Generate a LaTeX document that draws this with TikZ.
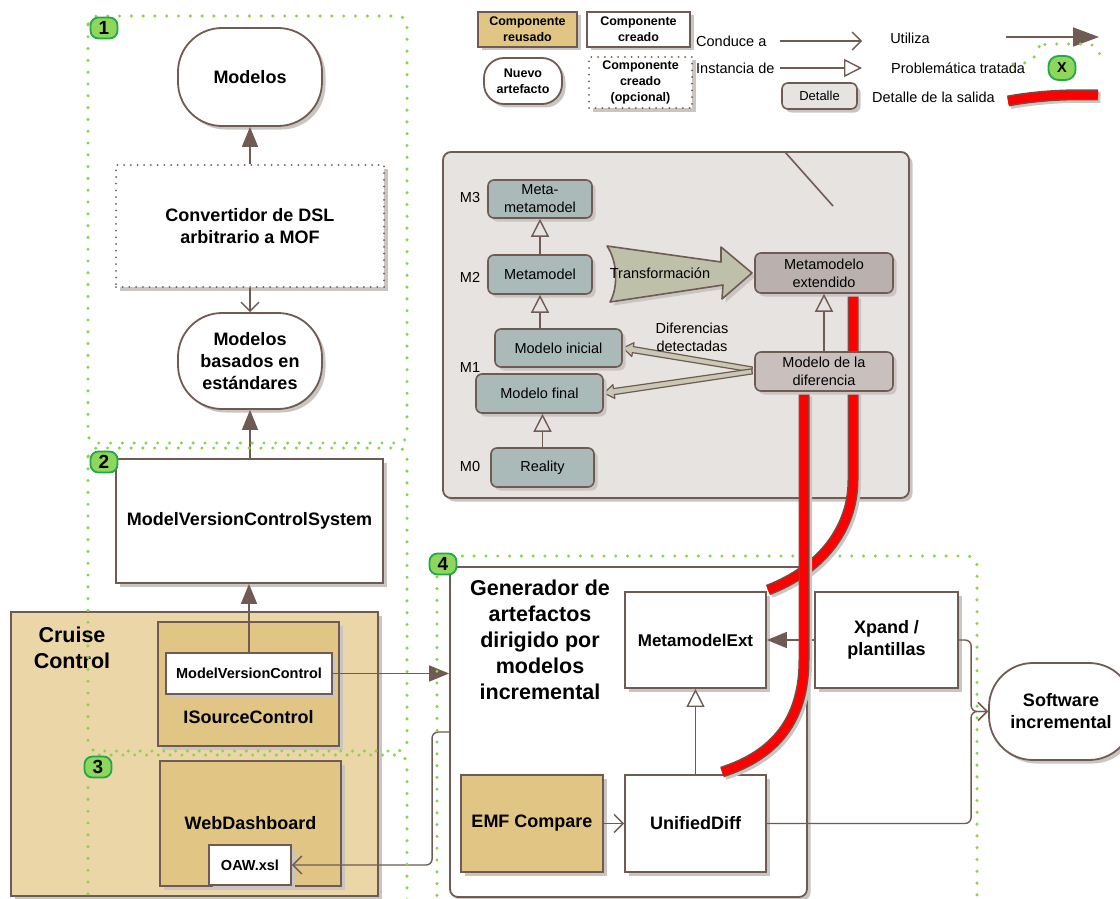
\documentclass[tikz,border=0pt]{standalone}
\usepackage{fontspec}
\setmainfont{Liberation Sans}
\usetikzlibrary{arrows.meta,shadows,calc}
\definecolor{brn}{HTML}{6F5B53}
\definecolor{shd}{HTML}{CBC5C2}
\definecolor{tanc}{HTML}{E0C584}
\definecolor{tanlt}{HTML}{EBD6A8}
\definecolor{panelc}{HTML}{E7E3E0}
\definecolor{bluegr}{HTML}{A9BAB8}
\definecolor{mauve}{HTML}{BAB0AE}
\definecolor{mauvelt}{HTML}{C9C0BE}
\definecolor{olivec}{HTML}{BFC0AA}
\definecolor{bandc}{HTML}{C8C8B4}
\definecolor{greendot}{HTML}{8CD24E}
\definecolor{badgefill}{HTML}{8ED65C}
\definecolor{badgeline}{HTML}{23A849}
\definecolor{redo}{HTML}{7A4A40}
\newcommand\myB{\fontsize{18}{22}\selectfont\bfseries}
\newcommand\myS{\fontsize{14.5}{17}\selectfont\bfseries}
\newcommand\myXL{\fontsize{21.5}{26}\selectfont\bfseries}
\newcommand\myL{\fontsize{12.5}{16}\selectfont\bfseries}
\newcommand\myR{\fontsize{14.5}{18}\selectfont}
\newcommand\myRs{\fontsize{13}{16}\selectfont}
\newcommand\myBadge{\fontsize{19}{20}\selectfont\bfseries}
\begin{document}
\begin{tikzpicture}[x=1pt,y=-1pt,
  every node/.style={inner sep=0pt},
  shad/.style={drop shadow={shadow xshift=3.5pt,shadow yshift=-3.5pt,fill=shd,opacity=1}},
  box/.style={draw=brn,line width=1.8pt,fill=white,align=center,shad,font=\myB},
  tanbox/.style={box,fill=tanc},
  dotbox/.style={draw=brn,line width=2pt,dash pattern=on 0pt off 6.7pt,line cap=round,fill=white,align=center,shad,font=\myB},
  stadium/.style={box,rounded corners=44pt},
  pbox/.style={draw=brn,line width=1.6pt,rounded corners=6pt,fill=bluegr,align=center,shad,font=\myR},
  region/.style={draw=greendot,line width=3.4pt,dash pattern=on 0pt off 11.8pt,line cap=round,rounded corners=9pt},
  badge/.style={draw=badgeline,fill=badgefill,line width=1.8pt,rounded corners=8pt,minimum width=27pt,minimum height=21pt,font=\myBadge},
  uses/.style={draw=brn,line width=1.6pt,-{Triangle[length=20pt,width=16pt]}},
  leads/.style={draw=brn,line width=1.4pt,-{Straight Barb[length=9pt,width=18pt]}},
  inst/.style={draw=brn,line width=1.4pt,-{Triangle[open,length=18pt,width=18pt]}},
  redl/.style={line width=8pt,draw=red,
    preaction={draw=shd,line width=11pt,transform canvas={shift={(2.5pt,-2.5pt)}}},
    preaction={draw=redo,line width=11pt}}
]
\useasboundingbox (0,0) rectangle (1120,899);
\clip (0,0) rectangle (1120,899);
\fill[white] (0,0) rectangle (1120,899);

% ---------- legend ----------
\node[tanbox,font=\myL,minimum width=99pt,minimum height=35pt] (lreuse) at (527.5,29.5) {Componente\\reusado};
\node[box,font=\myL,minimum width=103pt,minimum height=35pt] (lcre) at (638.5,29.5) {Componente\\creado};
\node[box,rounded corners=20pt,font=\myL,minimum width=78pt,minimum height=46pt] (lnuevo) at (523,81) {Nuevo\\artefacto};
\node[dotbox,font=\myL,minimum width=103pt,minimum height=51pt] (lopc) at (640.5,82.5) {Componente\\creado\\(opcional)};
\node[font=\myR,anchor=west] (tcond) at (696,41) {Conduce a};
\coordinate (c1a) at (780,41); \coordinate (c1b) at (862,41);
\draw[leads] (c1a) -- (c1b);
\node[font=\myR,anchor=west] (tinst) at (696,68) {Instancia de};
\coordinate (c2a) at (780,68); \coordinate (c2b) at (862,68);
\draw[inst] (c2a) -- (c2b);
\node[font=\myR] (tuti) at (910,38) {Utiliza};
\coordinate (c3a) at (1006,37); \coordinate (c3b) at (1099,37);
\draw[draw=brn,line width=1.6pt,-{Triangle[length=26pt,width=19pt]}] (c3a) -- (c3b);
\node[font=\myR,anchor=west] (tprob) at (891,68) {Problemática tratada};
\draw[region,rounded corners=6pt] (1013,64) -- (1033,62) -- (1037,46) -- (1046,44) -- (1094,44) -- (1101,56);
\node[draw=badgeline,fill=badgefill,line width=1.8pt,rounded corners=10pt,minimum width=27pt,minimum height=24pt,font=\myS] (lx) at (1062,68) {X};
\node[draw=brn,line width=1.6pt,rounded corners=6pt,fill=panelc,shad,minimum width=75pt,minimum height=26pt,font=\myRs] (ldet) at (819.5,96) {Detalle};
\node[font=\myR,anchor=west] (tdet) at (872,97) {Detalle de la salida};
\draw[redl] (1008,101) .. controls (1035,96) and (1065,94) .. (1098,95);

% ---------- region 1 ----------
\node[stadium,minimum width=144pt,minimum height=98pt] (modelos) at (250,77) {Modelos};
\node[dotbox,minimum width=268pt,minimum height=122pt] (conv) at (250,226) {Convertidor de DSL\\arbitrario a MOF};
\node[stadium,minimum width=144pt,minimum height=96pt] (mbase) at (250,361) {Modelos\\basados en\\estándares};
\draw[uses] (conv.north) -- (modelos.south);
\draw[leads] (conv.south) -- (mbase.north);

% ---------- region 2/3 ----------
\node[box,minimum width=267pt,minimum height=124pt] (mvcs) at (249.5,521) {ModelVersionControlSystem};
\draw[uses] (mvcs.north -| mbase.south) -- (mbase.south);
\node[box,fill=tanlt,minimum width=367pt,minimum height=284pt] (cruise) at (194.5,754) {};
\node[font=\myXL,align=center] (cruiset) at (72,648) {Cruise\\Control};
\node[tanbox,minimum width=181pt,minimum height=124pt] (isc) at (248.5,684) {};
\node[font=\myB] (isct) at (248.5,717) {ISourceControl};
\node[box,font=\myS,minimum width=166pt,minimum height=41pt] (mvc) at (249,673.5) {ModelVersionControl};
\node[tanbox,minimum width=181pt,minimum height=125pt] (web) at (250.5,823.5) {};
\node[font=\myB] (webt) at (250.5,823) {WebDashboard};
\node[box,font=\myS,minimum width=82pt,minimum height=40pt] (oaw) at (250,865) {OAW.xsl};
\draw[uses] (mvc.north) -- (mvc.north |- mvcs.south);

% ---------- grey panel background ----------
\node[draw=brn,line width=1.8pt,rounded corners=8pt,fill=panelc,shad,minimum width=466pt,minimum height=346pt] (panel) at (676,325) {};
\coordinate (diag) at (785,152);
\draw[brn,line width=1.6pt] (diag) -- (833,206);
% bands (Diferencias detectadas)
\filldraw[fill=bandc,draw=brn,line width=1.2pt,line join=round] (623,348) -- (634.0,342.7) -- (633.4,346.6) -- (752.4,367) -- (751.6,372) -- (632.4,352.6) -- (631.8,356.5) -- cycle;
\filldraw[fill=bandc,draw=brn,line width=1.2pt,line join=round] (604,393) -- (612.9,384.7) -- (613.5,388.6) -- (751.6,368.9) -- (752.4,373.9) -- (614.3,394.6) -- (614.9,398.5) -- cycle;
% transformation arrow
\filldraw[fill=olivec,draw=brn,line width=1.6pt,line join=round,shad] (607,246) -- (721,262) -- (721,247) -- (752,273) -- (722,299) -- (723,285) -- (610,302) .. controls (618,288) and (618,262) .. cycle;
\node[font=\myR] (ttrans) at (660,273) {Transformación};
\node[font=\myR,align=center] (tdif) at (692,337) {Diferencias\\detectadas};

% ---------- region 4 ----------
\node[box,rounded corners=8pt,minimum width=357pt,minimum height=330pt] (gen) at (628.5,732) {};
\node[font=\myXL,align=center] (gent) at (540,640) {Generador de\\artefactos\\dirigido por\\modelos\\incremental};
\node[box,font=\fontsize{17}{21}\selectfont\bfseries,minimum width=141pt,minimum height=96pt] (mext) at (695.5,640) {MetamodelExt};
\node[box,minimum width=143pt,minimum height=96pt] (xpand) at (886.5,640) {Xpand /\\plantillas};
\node[tanbox,minimum width=142pt,minimum height=97pt] (emf) at (532,823.5) {EMF Compare};
\node[box,minimum width=141pt,minimum height=97pt] (udiff) at (695.5,823.5) {UnifiedDiff};
\node[stadium,minimum width=144pt,minimum height=97pt] (soft) at (1061,711.5) {Software\\incremental};

\draw[uses] (mvc.east) -- (mvc.east -| gen.west);
\draw[leads,rounded corners=6pt] (gen.west) -- ++(-17,0) |- (oaw.east);
\draw[leads] (emf.east) -- (udiff.west);
\draw[inst] (udiff.north) -- (mext.south);
\draw[uses] (xpand.west) -- (mext.east);
\draw[leads,rounded corners=6pt] (xpand.east) -| ([xshift=-17pt]soft.west) -- (soft.west);
\draw[leads,rounded corners=6pt] (udiff.east) -| ([xshift=-17pt]soft.west) -- (soft.west);

% ---------- regions ----------
\draw[region] (88,16) rectangle (407,443);
\draw[region] (88,448) rectangle (407,751);
\draw[region] (88,755) rectangle (407,930);
\draw[region] (437,556) rectangle (977,930);

% ---------- red detail lines (behind the panel nodes) ----------
\coordinate (ra) at (853,296);
\coordinate (rb) at (804,394);
\draw[redl] (ra) -- (853,480) .. controls (853,530) and (820,570) .. (768,590);
\draw[redl] (rb) -- (804,660) .. controls (804,720) and (775,755) .. (722,772);

% ---------- panel nodes ----------
\node[pbox,minimum width=104pt,minimum height=38pt] (mmm) at (540,199) {Meta-\\metamodel};
\node[pbox,minimum width=104pt,minimum height=39pt] (mm) at (540,274.5) {Metamodel};
\node[pbox,minimum width=127pt,minimum height=38pt] (mini) at (558.5,348) {Modelo inicial};
\node[pbox,minimum width=127pt,minimum height=39pt] (mfin) at (539.5,393.5) {Modelo final};
\node[pbox,minimum width=103pt,minimum height=39pt] (real) at (542.5,467.5) {Reality};
\node[pbox,fill=mauve,minimum width=138pt,minimum height=40pt] (mext2) at (824,273) {Metamodelo\\extendido};
\node[pbox,fill=mauvelt,minimum width=138pt,minimum height=39pt] (mdif) at (824,371.5) {Modelo de la\\diferencia};
\node[font=\myR] (m3) at (470,198) {M3};
\node[font=\myR] (m2) at (470,277) {M2};
\node[font=\myR] (m1) at (470,368) {M1};
\node[font=\myR] (m0) at (470,467) {M0};
\draw[inst] (mm.north) -- (mmm.south);
\draw[inst] (mm.south |- mini.north) -- (mm.south);
\draw[inst] (real.north) -- (real.north |- mfin.south);
\draw[inst] (mdif.north) -- (mext2.south);

% ---------- badges ----------
\node[badge] (b1) at (104,28) {1};
\node[badge] (b2) at (104,462) {2};
\node[badge] (b3) at (98,767) {3};
\node[badge] (b4) at (443,564) {4};
\end{tikzpicture}
\end{document}
